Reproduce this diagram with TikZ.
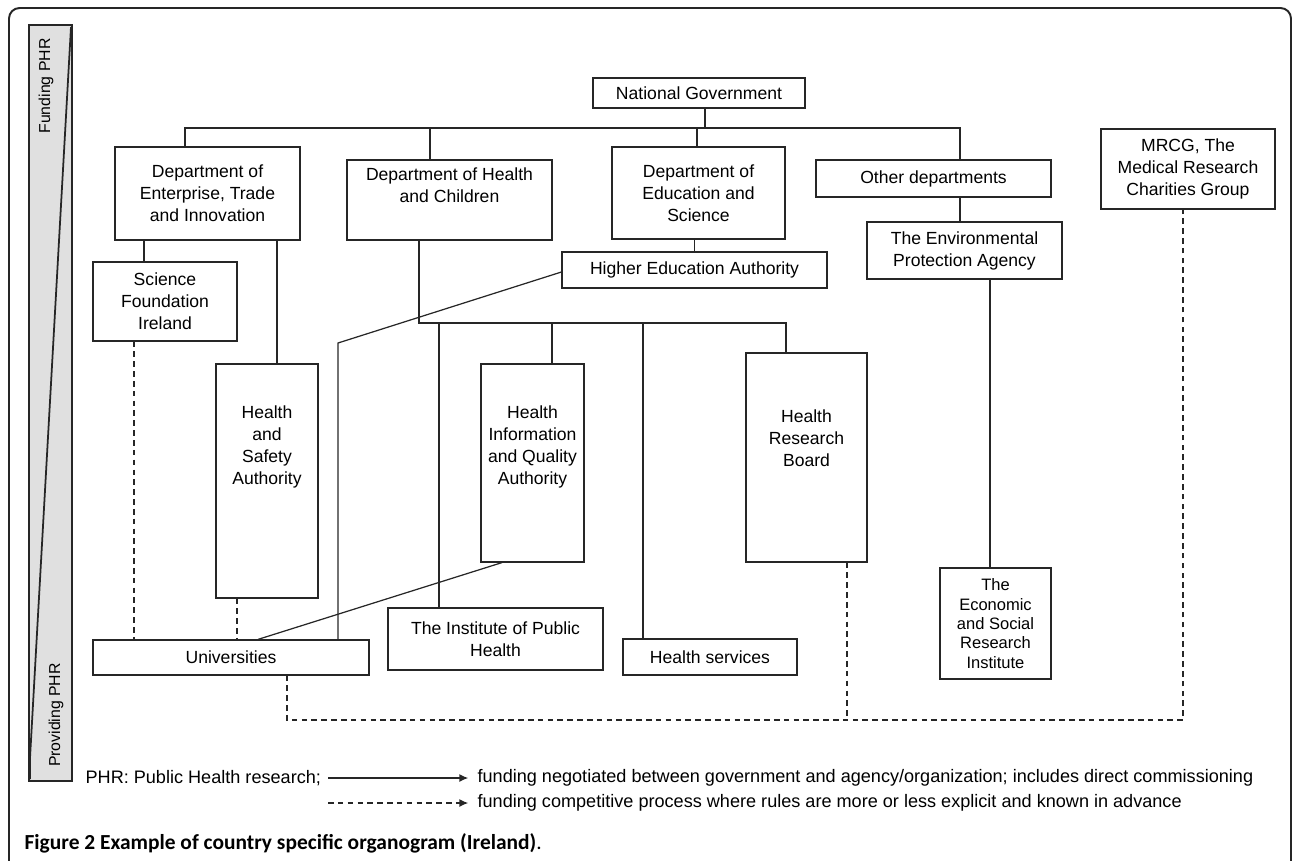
\documentclass[tikz,border=0pt]{standalone}
\usepackage{fontspec}
\setmainfont{Liberation Sans}
\newfontfamily\capfont{Carlito}
\usepackage{tikz}
\usetikzlibrary{arrows.meta, positioning}

\begin{document}
\begin{tikzpicture}[x=0.02cm, y=-0.02cm, >={Latex[length=5pt, width=4.5pt]},
                    line width=0.7pt, draw=black!85,
                    font=\fontsize{10}{12.5}\selectfont]
\tikzstyle{org}=[draw=black!85, rectangle, inner sep=0pt, align=center]
\tikzstyle{compete}=[dashed, dash pattern=on 3.2pt off 2.4pt]
\tikzstyle{legend}=[anchor=west, inner sep=0pt, font=\fontsize{10.3}{12.5}\selectfont]
  \useasboundingbox (0,0) rectangle (1292,860);
  % frame and the funding / providing bar
  \draw[line width=1.1pt, rounded corners=6pt] (9,870) -- (9,8) -- (1291,8) -- (1291,870);
  \draw[fill=black!12, line width=0.6pt] (29,25) rectangle (72,781);
  \draw[line width=1pt] (71,27) -- (30,758) -- (30,779);
  \node[rotate=90, font=\fontsize{9}{11}\selectfont] (funding) at (46,86) {Funding PHR};
  \node[rotate=90, font=\fontsize{9}{11}\selectfont] (providing) at (56,715) {Providing PHR};

  % funders
  \node[org, minimum width=4.24cm, minimum height=0.6cm] (natgov) at (699,93) {National Government};
  \node[org, minimum width=3.7cm, minimum height=1.86cm] (dept_ent) at (207.5,193.5)
                            {Department of\\Enterprise, Trade\\and Innovation};
  \node[org, minimum width=4.1cm, minimum height=1.6cm] (dept_health) at (449.5,200) {};
  \node[align=center] (dept_health_text) at (449.5,185) {Department of Health\\and Children};
  \node[org, minimum width=3.46cm, minimum height=1.84cm] (dept_edu) at (698.5,193)
                            {Department of\\Education and\\Science};
  \node[org, minimum width=4.7cm, minimum height=0.74cm] (other_dept) at (933.5,178.5) {Other departments};
  \node[org, minimum width=3.48cm, minimum height=1.6cm] (mrcg) at (1188,169)
                            {MRCG, The\\Medical Research\\Charities Group};
  \node[org, minimum width=5.3cm, minimum height=0.72cm] (hea) at (694.5,270) {Higher Education Authority};
  \node[org, minimum width=3.9cm, minimum height=1.14cm] (epa) at (964.5,250.5)
                            {The Environmental\\Protection Agency};
  \node[org, minimum width=2.88cm, minimum height=1.58cm] (sfi) at (165,301.5)
                            {Science\\Foundation\\Ireland};
  \node[org, minimum width=2.04cm, minimum height=4.68cm] (hsa) at (267,481) {};
  \node[align=center] (hsa_text) at (267,447) {Health\\and\\Safety\\Authority};
  \node[org, minimum width=2.06cm, minimum height=3.96cm] (hiqa) at (532.5,463) {};
  \node[align=center] (hiqa_text) at (532.5,447) {Health\\Information\\and Quality\\Authority};
  \node[org, minimum width=2.42cm, minimum height=4.18cm] (hrb) at (806.5,457.5) {};
  \node[align=center] (hrb_text) at (806.5,438) {Health\\Research\\Board};

  % providers
  \node[org, minimum width=5.52cm, minimum height=0.7cm] (univ) at (231,657.5) {Universities};
  \node[org, minimum width=4.3cm, minimum height=1.24cm] (iph) at (495.5,639)
                            {The Institute of Public\\Health};
  \node[org, minimum width=3.48cm, minimum height=0.72cm] (hservices) at (710,657) {Health services};
  \node[org, minimum width=2.22cm, minimum height=2.22cm, font=\fontsize{9.4}{11}\selectfont]
        (esri) at (995.5,623.5) {The\\Economic\\and Social\\Research\\Institute};

  % negotiated funding
  \draw (natgov.south -| 705,0) -- (705,128);
  \draw (dept_ent.north -| 185,0) -- (185,128) -- (960,128) -- (other_dept.north -| 960,0);
  \draw (dept_health.north -| 430,0) -- (430,128);
  \draw (dept_edu.north -| 697,0) -- (697,128);
  \draw (dept_ent.south -| 144,0) -- (sfi.north -| 144,0);
  \draw (dept_ent.south -| 277,0) -- (hsa.north -| 277,0);
  \draw (dept_edu.south -| hea.north) -- (hea.north);
  \draw (other_dept.south -| 960,0) -- (epa.north -| 960,0);
  \draw (epa.south -| 990,0) -- (esri.north -| 990,0);
  \draw (dept_health.south -| 419,0) -- (419,323) -- (786,323) -- (hrb.north -| 786,0);
  \draw (iph.north -| 439,0) -- (439,323);
  \draw (hiqa.north -| 552,0) -- (552,323);
  \draw (hservices.north -| 643,0) -- (643,323);
  \draw (hea.west |- 0,272) -- (338,343) -- (univ.north -| 338,0);
  \draw (hiqa.south -| 502,0) -- (univ.north -| 258,0);

  % competitive funding
  \draw[compete] (sfi.south -| 134,0) -- (univ.north -| 134,0);
  \draw[compete] (hsa.south -| 237,0) -- (univ.north -| 237,0);
  \draw[compete] (univ.south -| 287,0) -- (287,720) -- (1183,720) -- (mrcg.south -| 1183,0);
  \draw[compete] (hrb.south -| 847,0) -- (847,720);

  % legend
  \node[legend] (phr) at (85,778) {PHR: Public Health research;};
  \node[legend] (negotiated) at (477,778)
        {funding negotiated between government and agency/organization; includes direct commissioning};
  \node[legend] (competitive) at (477,803)
        {funding competitive process where rules are more or less explicit and known in advance};
  \coordinate (negotiated_from) at (328,778);
  \coordinate (competitive_from) at (328,803);
  \draw[->] (negotiated_from) -- ([xshift=-5pt]negotiated.west);
  \draw[->, compete] (competitive_from) -- ([xshift=-5pt]competitive.west);

  \node[anchor=west, inner sep=0pt, font=\capfont\fontsize{12.2}{14}\selectfont] (caption) at (24,843)
        {\textbf{Figure 2 Example of country specific organogram (Ireland)}.};
\end{tikzpicture}
\end{document}
